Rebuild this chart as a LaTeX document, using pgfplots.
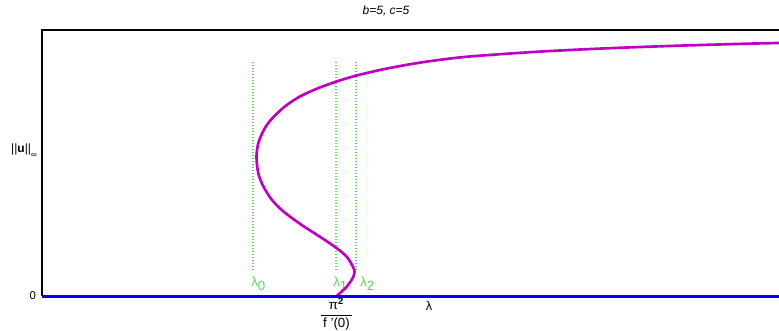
\documentclass[border=0pt]{standalone}
\usepackage{fontspec}
\setmainfont{Liberation Sans}
\usepackage{amsmath}
\usepackage{pgfplots}
\pgfplotsset{compat=1.18}
\definecolor{mag}{RGB}{192,0,192}
\definecolor{grn}{RGB}{90,215,90}
\begin{document}
\begin{tikzpicture}
\path[use as bounding box] (-31.5pt,-25.5pt) rectangle (552.75pt,222pt);
\begin{axis}[at={(0,0)},anchor=south west,
  scale only axis, width=552.75pt, height=199.5pt,
  xmin=42, xmax=779, ymin=0, ymax=266,
  axis line style={draw=none}, major tick length=0pt,
  clip=false,
  xtick={336.5}, xticklabels={$\dfrac{\text{π}^{\text{\bfseries 2}}}{\text{\,f '(0)\,}}$},
  ytick={0}, yticklabels={0},
  tick label style={font=\fontsize{8.5}{9}\selectfont},
  xticklabel style={font=\fontsize{10}{10}\selectfont, yshift=2pt},
  yticklabel style={xshift=-1pt},
]
\draw[black, line width=1pt] (axis cs:42,0) -- (axis cs:42,266) -- (axis cs:779,266);
% dotted reference lines
\addplot[grn, line width=1.2pt, dash pattern=on 0.75pt off 1.5pt] coordinates {(253,26) (253,234)};
\addplot[grn, line width=1.2pt, dash pattern=on 0.75pt off 1.5pt] coordinates {(336,26) (336,234)};
\addplot[grn, line width=1.2pt, dash pattern=on 0.75pt off 1.5pt] coordinates {(356,26) (356,234)};
\node[grn, anchor=base west, inner sep=0pt, font=\fontsize{10}{10}\selectfont] at (axis cs:251,10) {λ\raisebox{-0.6ex}{0}};
\node[grn, anchor=base west, inner sep=0pt, font=\fontsize{10}{10}\selectfont] at (axis cs:333,10) {λ\raisebox{-0.6ex}{1}};
\node[grn, anchor=base west, inner sep=0pt, font=\fontsize{10}{10}\selectfont] at (axis cs:360,10) {λ\raisebox{-0.6ex}{2}};
% bifurcation curve
\addplot[mag, line width=2pt, smooth, line join=round] coordinates {
(336.7,0) (346.7,9.3) (353,18.5) (354.5,24) (353.3,28.5) (346.7,39.3)
(334.7,49.3) (317.2,61) (301.7,71) (283.7,84.3) (272,96) (263.5,109.3)
(258.3,122.7) (256.5,139) (258.3,152.7) (263.8,166) (271.2,176.5)
(284.6,189.3) (299.6,199.3) (316.7,207.2) (336,214.3) (356,220.3)
(383.3,226.7) (410,231.7) (435,235.5) (470,239.5) (537,244.2)
(603,247.5) (670,250) (737,252) (779,253)};
% trivial branch
\addplot[blue, line width=2.25pt] coordinates {(42,0) (779,0)};
\node[font=\fontsize{9.5}{10}\selectfont] at (axis cs:429,-10) {λ};
\node[font=\fontsize{9}{10}\selectfont\itshape] at (axis cs:386,285) {b=5, c=5};
\node[font=\fontsize{9}{10}\selectfont, anchor=east, inner sep=0pt] at (axis cs:37,145) {||\textbf{u}||\raisebox{-0.8ex}{\fontsize{6}{6}\selectfont ∞}};
\end{axis}
\end{tikzpicture}
\end{document}
